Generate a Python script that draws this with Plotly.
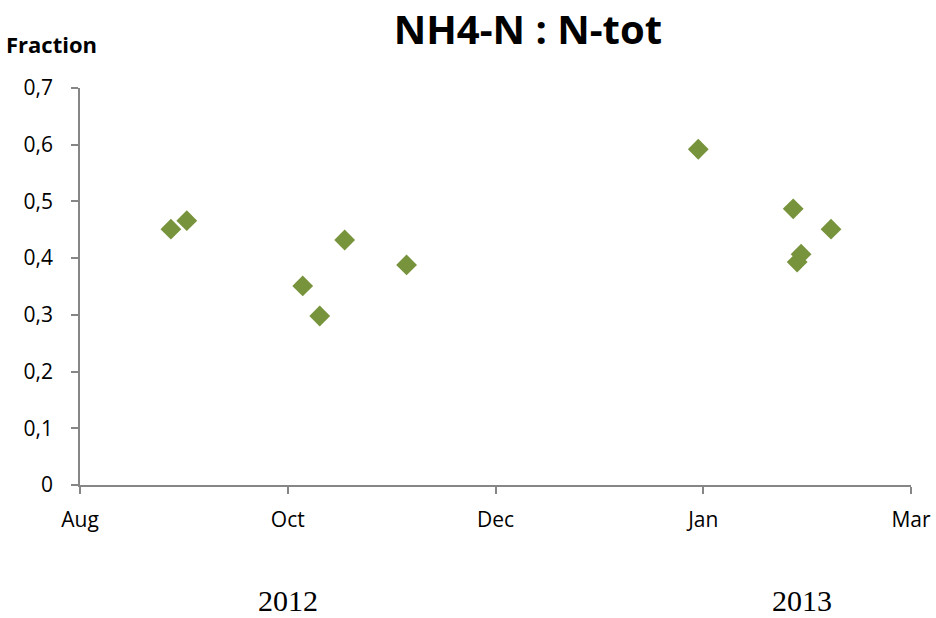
import plotly.graph_objects as go

# x positions expressed on the chart's month-tick scale (Aug=0, Oct=1, Dec=2, Jan=3, Mar=4)
x_pos = [0.4375, 0.514, 1.072, 1.154, 1.274, 1.572, 2.976, 3.433, 3.452, 3.471, 3.615]
fraction = [0.451, 0.466, 0.351, 0.298, 0.432, 0.388, 0.592, 0.487, 0.393, 0.407, 0.451]

tick_vals = [0, 1, 2, 3, 4]
tick_labels = ["Aug", "Oct", "Dec", "Jan", "Mar"]
y_ticks = [0, 0.1, 0.2, 0.3, 0.4, 0.5, 0.6, 0.7]
y_labels = ["0", "0,1", "0,2", "0,3", "0,4", "0,5", "0,6", "0,7"]
years = ["2012", "2013"]
year_pos = [1.0, 3.476]

font = "Open Sans, Lato, sans-serif"
axis_col = "#868686"

fig = go.Figure(go.Scatter(
    x=x_pos, y=fraction, mode="markers",
    marker=dict(symbol="diamond", size=16, color="#77933C"),
    showlegend=False,
))

fig.update_layout(
    width=936, height=618,
    margin=dict(l=80, r=25, t=88, b=133, autoexpand=False),
    plot_bgcolor="white", paper_bgcolor="white",
    title=dict(text="<b>NH4-N : N-tot</b>", x=0.564, xanchor="center", y=0.952, yanchor="middle",
               font=dict(family=font, size=40, color="black")),
    xaxis=dict(range=[0, 4], tickmode="array", tickvals=tick_vals, ticktext=tick_labels,
               automargin=False,
               showgrid=False, zeroline=False, showline=True, linecolor=axis_col, linewidth=1.5,
               ticks="outside", ticklen=7, tickcolor=axis_col, tickwidth=1.5,
               ticklabelstandoff=8,
               tickfont=dict(family=font, size=21, color="black")),
    yaxis=dict(range=[0, 0.7], tickmode="array", tickvals=y_ticks, ticktext=y_labels,
               automargin=False,
               showgrid=False, zeroline=False, showline=True, linecolor=axis_col, linewidth=1.5,
               ticks="outside", ticklen=7, tickcolor=axis_col, tickwidth=1.5,
               ticklabelstandoff=14,
               tickfont=dict(family=font, size=21, color="black")),
    annotations=[
        dict(text="<b>Fraction</b>", xref="paper", yref="paper", x=-0.092, y=1.112,
             xanchor="left", yanchor="middle", showarrow=False,
             font=dict(family=font, size=22, color="black")),
    ] + [
        dict(text=t, x=p, xref="x", yref="paper", y=-0.292, yanchor="middle",
             showarrow=False, font=dict(family="Liberation Serif, Times New Roman, serif", size=30, color="black"))
        for t, p in zip(years, year_pos)
    ],
)

fig.write_html("out.html", config={"displayModeBar": False},
               post_script="document.body.style.margin='0';")
